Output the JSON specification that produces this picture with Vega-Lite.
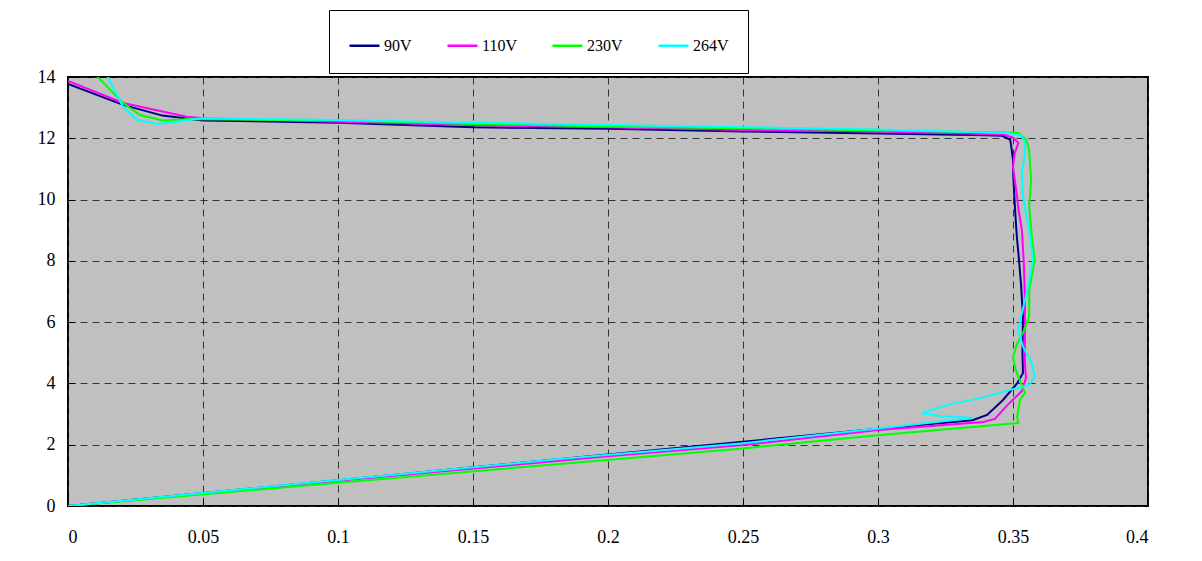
{
  "$schema": "https://vega.github.io/schema/vega-lite/v6.json",
  "width": 1080,
  "height": 429,
  "autosize": {"type": "none"},
  "padding": {"left": 68, "top": 77, "right": 54, "bottom": 55},
  "background": "#ffffff",
  "config": {
    "view": {"fill": "#c0c0c0", "stroke": "#000000", "strokeWidth": 2},
    "font": "Liberation Serif"
  },
  "data": {
    "values": [
      {"s": "90V", "i": 1, "x": 0, "y": 0},
      {"s": "90V", "i": 2, "x": 0.1, "y": 0.84},
      {"s": "90V", "i": 3, "x": 0.2, "y": 1.68},
      {"s": "90V", "i": 4, "x": 0.3, "y": 2.52},
      {"s": "90V", "i": 5, "x": 0.335, "y": 2.8},
      {"s": "90V", "i": 6, "x": 0.3404, "y": 2.97},
      {"s": "90V", "i": 7, "x": 0.3463, "y": 3.46},
      {"s": "90V", "i": 8, "x": 0.3515, "y": 4.0},
      {"s": "90V", "i": 9, "x": 0.3537, "y": 4.34},
      {"s": "90V", "i": 10, "x": 0.3535, "y": 5.0},
      {"s": "90V", "i": 11, "x": 0.3537, "y": 6.17},
      {"s": "90V", "i": 12, "x": 0.353, "y": 7.2},
      {"s": "90V", "i": 13, "x": 0.352, "y": 8.26},
      {"s": "90V", "i": 14, "x": 0.3515, "y": 8.7},
      {"s": "90V", "i": 15, "x": 0.351, "y": 9.33},
      {"s": "90V", "i": 16, "x": 0.3505, "y": 10.1},
      {"s": "90V", "i": 17, "x": 0.35, "y": 10.97},
      {"s": "90V", "i": 18, "x": 0.35, "y": 11.3},
      {"s": "90V", "i": 19, "x": 0.3494, "y": 11.7},
      {"s": "90V", "i": 20, "x": 0.349, "y": 11.95},
      {"s": "90V", "i": 21, "x": 0.346, "y": 12.08},
      {"s": "90V", "i": 22, "x": 0.34, "y": 12.1},
      {"s": "90V", "i": 23, "x": 0.3, "y": 12.16},
      {"s": "90V", "i": 24, "x": 0.25, "y": 12.22},
      {"s": "90V", "i": 25, "x": 0.2, "y": 12.31},
      {"s": "90V", "i": 26, "x": 0.15, "y": 12.36},
      {"s": "90V", "i": 27, "x": 0.1, "y": 12.51},
      {"s": "90V", "i": 28, "x": 0.05, "y": 12.58},
      {"s": "90V", "i": 29, "x": 0.035, "y": 12.74},
      {"s": "90V", "i": 30, "x": 0.0204, "y": 13.09},
      {"s": "90V", "i": 31, "x": 0, "y": 13.77},

      {"s": "110V", "i": 1, "x": 0, "y": 0},
      {"s": "110V", "i": 2, "x": 0.1, "y": 0.82},
      {"s": "110V", "i": 3, "x": 0.2, "y": 1.62},
      {"s": "110V", "i": 4, "x": 0.25, "y": 1.99},
      {"s": "110V", "i": 5, "x": 0.3, "y": 2.48},
      {"s": "110V", "i": 6, "x": 0.339, "y": 2.74},
      {"s": "110V", "i": 7, "x": 0.3433, "y": 2.84},
      {"s": "110V", "i": 8, "x": 0.348, "y": 3.3},
      {"s": "110V", "i": 9, "x": 0.3533, "y": 3.75},
      {"s": "110V", "i": 10, "x": 0.3548, "y": 4.18},
      {"s": "110V", "i": 11, "x": 0.3544, "y": 4.67},
      {"s": "110V", "i": 12, "x": 0.3544, "y": 5.74},
      {"s": "110V", "i": 13, "x": 0.3544, "y": 6.8},
      {"s": "110V", "i": 14, "x": 0.354, "y": 7.93},
      {"s": "110V", "i": 15, "x": 0.3533, "y": 9.0},
      {"s": "110V", "i": 16, "x": 0.352, "y": 9.7},
      {"s": "110V", "i": 17, "x": 0.3515, "y": 10.1},
      {"s": "110V", "i": 18, "x": 0.35, "y": 11.06},
      {"s": "110V", "i": 19, "x": 0.3506, "y": 11.5},
      {"s": "110V", "i": 20, "x": 0.352, "y": 11.85},
      {"s": "110V", "i": 21, "x": 0.35, "y": 12.02},
      {"s": "110V", "i": 22, "x": 0.3463, "y": 12.12},
      {"s": "110V", "i": 23, "x": 0.34, "y": 12.14},
      {"s": "110V", "i": 24, "x": 0.3, "y": 12.22},
      {"s": "110V", "i": 25, "x": 0.25, "y": 12.27},
      {"s": "110V", "i": 26, "x": 0.2, "y": 12.36},
      {"s": "110V", "i": 27, "x": 0.15, "y": 12.43},
      {"s": "110V", "i": 28, "x": 0.1, "y": 12.54},
      {"s": "110V", "i": 29, "x": 0.05, "y": 12.65},
      {"s": "110V", "i": 30, "x": 0.044, "y": 12.7},
      {"s": "110V", "i": 31, "x": 0.0204, "y": 13.15},
      {"s": "110V", "i": 32, "x": 0, "y": 13.87},

      {"s": "230V", "i": 1, "x": 0, "y": 0},
      {"s": "230V", "i": 2, "x": 0.1, "y": 0.76},
      {"s": "230V", "i": 3, "x": 0.182, "y": 1.37},
      {"s": "230V", "i": 4, "x": 0.25, "y": 1.88},
      {"s": "230V", "i": 5, "x": 0.3, "y": 2.31},
      {"s": "230V", "i": 6, "x": 0.352, "y": 2.71},
      {"s": "230V", "i": 7, "x": 0.3515, "y": 2.9},
      {"s": "230V", "i": 8, "x": 0.3526, "y": 3.46},
      {"s": "230V", "i": 9, "x": 0.3544, "y": 3.69},
      {"s": "230V", "i": 10, "x": 0.351, "y": 4.44},
      {"s": "230V", "i": 11, "x": 0.35, "y": 4.86},
      {"s": "230V", "i": 12, "x": 0.3515, "y": 5.3},
      {"s": "230V", "i": 13, "x": 0.3537, "y": 5.65},
      {"s": "230V", "i": 14, "x": 0.356, "y": 6.17},
      {"s": "230V", "i": 15, "x": 0.356, "y": 7.05},
      {"s": "230V", "i": 16, "x": 0.358, "y": 8.03},
      {"s": "230V", "i": 17, "x": 0.357, "y": 8.78},
      {"s": "230V", "i": 18, "x": 0.356, "y": 9.76},
      {"s": "230V", "i": 19, "x": 0.3567, "y": 10.64},
      {"s": "230V", "i": 20, "x": 0.356, "y": 11.6},
      {"s": "230V", "i": 21, "x": 0.355, "y": 11.95},
      {"s": "230V", "i": 22, "x": 0.352, "y": 12.17},
      {"s": "230V", "i": 23, "x": 0.345, "y": 12.2},
      {"s": "230V", "i": 24, "x": 0.34, "y": 12.2},
      {"s": "230V", "i": 25, "x": 0.3, "y": 12.25},
      {"s": "230V", "i": 26, "x": 0.25, "y": 12.33},
      {"s": "230V", "i": 27, "x": 0.2, "y": 12.38},
      {"s": "230V", "i": 28, "x": 0.15, "y": 12.47},
      {"s": "230V", "i": 29, "x": 0.1, "y": 12.58},
      {"s": "230V", "i": 30, "x": 0.05, "y": 12.62},
      {"s": "230V", "i": 31, "x": 0.045, "y": 12.63},
      {"s": "230V", "i": 32, "x": 0.035, "y": 12.58},
      {"s": "230V", "i": 33, "x": 0.0267, "y": 12.76},
      {"s": "230V", "i": 34, "x": 0.0204, "y": 13.15},
      {"s": "230V", "i": 35, "x": 0.011, "y": 14.0},

      {"s": "264V", "i": 1, "x": 0, "y": 0},
      {"s": "264V", "i": 2, "x": 0.1, "y": 0.85},
      {"s": "264V", "i": 3, "x": 0.182, "y": 1.53},
      {"s": "264V", "i": 4, "x": 0.25, "y": 2.05},
      {"s": "264V", "i": 5, "x": 0.3, "y": 2.53},
      {"s": "264V", "i": 6, "x": 0.335, "y": 2.87},
      {"s": "264V", "i": 7, "x": 0.323, "y": 2.94},
      {"s": "264V", "i": 8, "x": 0.3163, "y": 3.03},
      {"s": "264V", "i": 9, "x": 0.3256, "y": 3.3},
      {"s": "264V", "i": 10, "x": 0.3378, "y": 3.52},
      {"s": "264V", "i": 11, "x": 0.349, "y": 3.79},
      {"s": "264V", "i": 12, "x": 0.356, "y": 3.95},
      {"s": "264V", "i": 13, "x": 0.358, "y": 4.2},
      {"s": "264V", "i": 14, "x": 0.357, "y": 4.67},
      {"s": "264V", "i": 15, "x": 0.3537, "y": 5.2},
      {"s": "264V", "i": 16, "x": 0.352, "y": 5.74},
      {"s": "264V", "i": 17, "x": 0.3533, "y": 6.3},
      {"s": "264V", "i": 18, "x": 0.3556, "y": 7.15},
      {"s": "264V", "i": 19, "x": 0.3574, "y": 8.03},
      {"s": "264V", "i": 20, "x": 0.356, "y": 9.0},
      {"s": "264V", "i": 21, "x": 0.3537, "y": 10.1},
      {"s": "264V", "i": 22, "x": 0.3533, "y": 10.87},
      {"s": "264V", "i": 23, "x": 0.3544, "y": 11.5},
      {"s": "264V", "i": 24, "x": 0.3544, "y": 11.85},
      {"s": "264V", "i": 25, "x": 0.3533, "y": 12.07},
      {"s": "264V", "i": 26, "x": 0.348, "y": 12.17},
      {"s": "264V", "i": 27, "x": 0.34, "y": 12.19},
      {"s": "264V", "i": 28, "x": 0.3, "y": 12.29},
      {"s": "264V", "i": 29, "x": 0.25, "y": 12.36},
      {"s": "264V", "i": 30, "x": 0.2, "y": 12.43},
      {"s": "264V", "i": 31, "x": 0.15, "y": 12.51},
      {"s": "264V", "i": 32, "x": 0.1, "y": 12.6},
      {"s": "264V", "i": 33, "x": 0.05, "y": 12.65},
      {"s": "264V", "i": 34, "x": 0.046, "y": 12.62},
      {"s": "264V", "i": 35, "x": 0.04, "y": 12.53},
      {"s": "264V", "i": 36, "x": 0.033, "y": 12.47},
      {"s": "264V", "i": 37, "x": 0.0256, "y": 12.6},
      {"s": "264V", "i": 38, "x": 0.0204, "y": 13.02},
      {"s": "264V", "i": 39, "x": 0.0148, "y": 14.0}
    ]
  },
  "mark": {"type": "line", "strokeWidth": 2, "clip": true},
  "encoding": {
    "x": {
      "field": "x",
      "type": "quantitative",
      "scale": {"domain": [0, 0.4], "nice": false, "zero": false},
      "axis": {
        "title": null,
        "values": [0, 0.05, 0.1, 0.15, 0.2, 0.25, 0.3, 0.35, 0.4],
        "format": "~g",
        "domain": false,
        "grid": true,
        "gridColor": "#222222",
        "gridDash": [7, 5],
        "gridWidth": 1,
        "gridOpacity": 0.9,
        "ticks": true,
        "tickSize": -7,
        "tickColor": "#000000",
        "tickWidth": 1,
        "labelFont": "Liberation Serif",
        "labelFontSize": 18,
        "labelColor": "#000000",
        "labelPadding": 29
      }
    },
    "y": {
      "field": "y",
      "type": "quantitative",
      "scale": {"domain": [0, 14], "nice": false, "zero": false},
      "axis": {
        "title": null,
        "values": [0, 2, 4, 6, 8, 10, 12, 14],
        "domain": false,
        "grid": true,
        "gridColor": "#222222",
        "gridDash": [7, 5],
        "gridWidth": 1,
        "gridOpacity": 0.9,
        "ticks": true,
        "tickSize": -7,
        "tickColor": "#000000",
        "tickWidth": 1,
        "labelFont": "Liberation Serif",
        "labelFontSize": 18,
        "labelColor": "#000000",
        "labelPadding": 20
      }
    },
    "color": {
      "field": "s",
      "type": "nominal",
      "scale": {"domain": ["90V", "110V", "230V", "264V"], "range": ["#000080", "#ff00ff", "#00ff00", "#00ffff"]},
      "legend": {
        "title": null,
        "orient": "none",
        "legendX": 261,
        "legendY": -67,
        "direction": "horizontal",
        "symbolType": "stroke",
        "symbolSize": 900,
        "symbolStrokeWidth": 2.5,
        "labelFont": "Liberation Serif",
        "labelFontSize": 16,
        "labelColor": "#000000",
        "labelOffset": 3,
        "columnPadding": 30,
        "padding": 19,
        "strokeColor": "#000000",
        "fillColor": "#ffffff"
      }
    },
    "order": {"field": "i", "type": "quantitative"}
  }
}
